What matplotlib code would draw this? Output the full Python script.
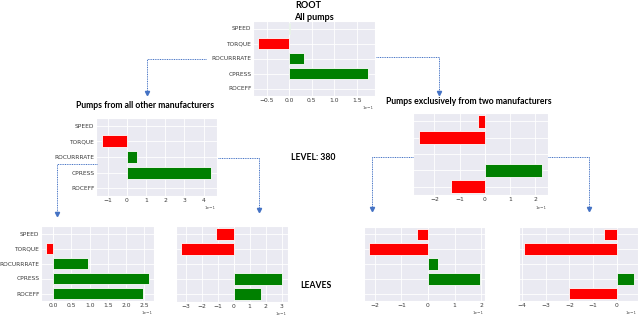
import matplotlib
matplotlib.use("Agg")
import matplotlib.pyplot as plt
import seaborn as sns
from matplotlib.lines import Line2D

sns.set_style("darkgrid")
plt.rcParams['font.family'] = ['DejaVu Sans']

W, H = 640, 315

features = ["SPEED", "TORQUE", "ROCURRRATE", "CPRESS", "ROCEFF"]

root_vals = [0.002, -0.069, 0.033, 0.175, 0.0]
midl_vals = [0.0, -0.13, 0.055, 0.44, 0.0]
midr_vals = [-0.028, -0.26, 0.0, 0.225, -0.135]
leaf1_vals = [0.0, -0.02, 0.096, 0.263, 0.247]
leaf2_vals = [-0.11, -0.33, 0.0, 0.305, 0.17]
leaf3_vals = [-0.04, -0.22, 0.037, 0.195, 0.0]
leaf4_vals = [-0.055, -0.39, 0.0, 0.075, -0.2]

root_ticks = [-0.05, 0.0, 0.05, 0.10, 0.15]
midl_ticks = [-0.1, 0.0, 0.1, 0.2, 0.3, 0.4]
midr_ticks = [-0.2, -0.1, 0.0, 0.1, 0.2]
leaf1_ticks = [0.0, 0.05, 0.10, 0.15, 0.20, 0.25]
leaf2_ticks = [-0.3, -0.2, -0.1, 0.0, 0.1, 0.2, 0.3]
leaf3_ticks = [-0.2, -0.1, 0.0, 0.1, 0.2]
leaf4_ticks = [-0.4, -0.3, -0.2, -0.1, 0.0]

offset_label = "1e\u22121"
title_root = "ROOT"
title_all = "All pumps"
title_midl = "Pumps from all other manufacturers"
title_midr = "Pumps exclusively from two manufacturers"
label_level = "LEVEL: 380"
label_leaves = "LEAVES"

fig = plt.figure(figsize=(W / 100, H / 100), dpi=100)


def add_ax(l, r, t, b):
    return fig.add_axes([l / W, 1 - b / H, (r - l) / W, (b - t) / H])


def draw(ax, vals, ticks, xlim, show_labels):
    colors = ["#008000" if v >= 0 else "#FF0000" for v in vals]
    ax.barh(range(len(features)), vals, height=0.78, color=colors,
            edgecolor="white", linewidth=0.6, zorder=2)
    ax.set_yticks(range(len(features)))
    if show_labels:
        ax.set_yticklabels(features, fontsize=4.2, color="#3a3a3a")
    else:
        ax.set_yticklabels([])
    ax.set_ylim(len(features) - 0.5, -0.5)
    ax.set_xticks(ticks)
    ax.set_xlim(*xlim)
    ax.ticklabel_format(axis="x", style="sci", scilimits=(0, 0))
    ax.tick_params(axis="x", labelsize=4.3, pad=1.5, colors="#3a3a3a", length=0)
    ax.tick_params(axis="y", pad=1.2, length=0)
    ax.xaxis.get_offset_text().set_visible(False)
    ax.text(0.99, -0.13, offset_label, transform=ax.transAxes, ha="right",
            va="top", fontsize=3, color="#555555")
    ax.grid(True, color="white", linewidth=0.6)
    ax.set_axisbelow(True)


draw(add_ax(253, 375, 21, 96), root_vals, root_ticks, (-0.08, 0.19), True)
draw(add_ax(96, 217, 118, 196), midl_vals, midl_ticks, (-0.16, 0.47), True)
draw(add_ax(413, 548, 113, 195), midr_vals, midr_ticks, (-0.285, 0.25), False)
draw(add_ax(41, 154, 226, 301), leaf1_vals, leaf1_ticks, (-0.033, 0.276), True)
draw(add_ax(176, 288, 226, 302), leaf2_vals, leaf2_ticks, (-0.36, 0.34), False)
draw(add_ax(364, 485, 227, 301), leaf3_vals, leaf3_ticks, (-0.24, 0.214), False)
draw(add_ax(519, 638, 227, 301), leaf4_vals, leaf4_ticks, (-0.413, 0.09), False)


def txt(x, y, s, size, weight="bold"):
    fig.text(x / W, 1 - y / H, s, fontsize=size, fontweight=weight,
             ha="center", va="center", family=["Lato", "DejaVu Sans"], color="black")


txt(308, 5, title_root, 6.5)
txt(314, 17, title_all, 6.5)
txt(145, 106, title_midl, 6.2)
txt(469, 102, title_midr, 6.2)
txt(313, 157, label_level, 6.2)
txt(316, 285, label_leaves, 6.2)

blue = "#4472C4"


def connector(x0, y0, x1, y1):
    xs = [x0 / W, x1 / W, x1 / W]
    ys = [1 - y0 / H, 1 - y0 / H, 1 - y1 / H]
    fig.add_artist(Line2D(xs, ys, color=blue, linewidth=0.7, linestyle=(0, (1, 0.8))))
    fig.add_artist(Line2D([x1 / W], [1 - y1 / H], color=blue, marker="v",
                          markersize=3, linestyle="none"))


connector(206, 59, 147, 93)
connector(376, 57, 439, 93)
connector(97, 164, 57, 214)
connector(218, 158, 259, 210)
connector(413, 157, 372, 209)
connector(548, 157, 589, 209)

fig.savefig("out.png", dpi=100, facecolor="white")
